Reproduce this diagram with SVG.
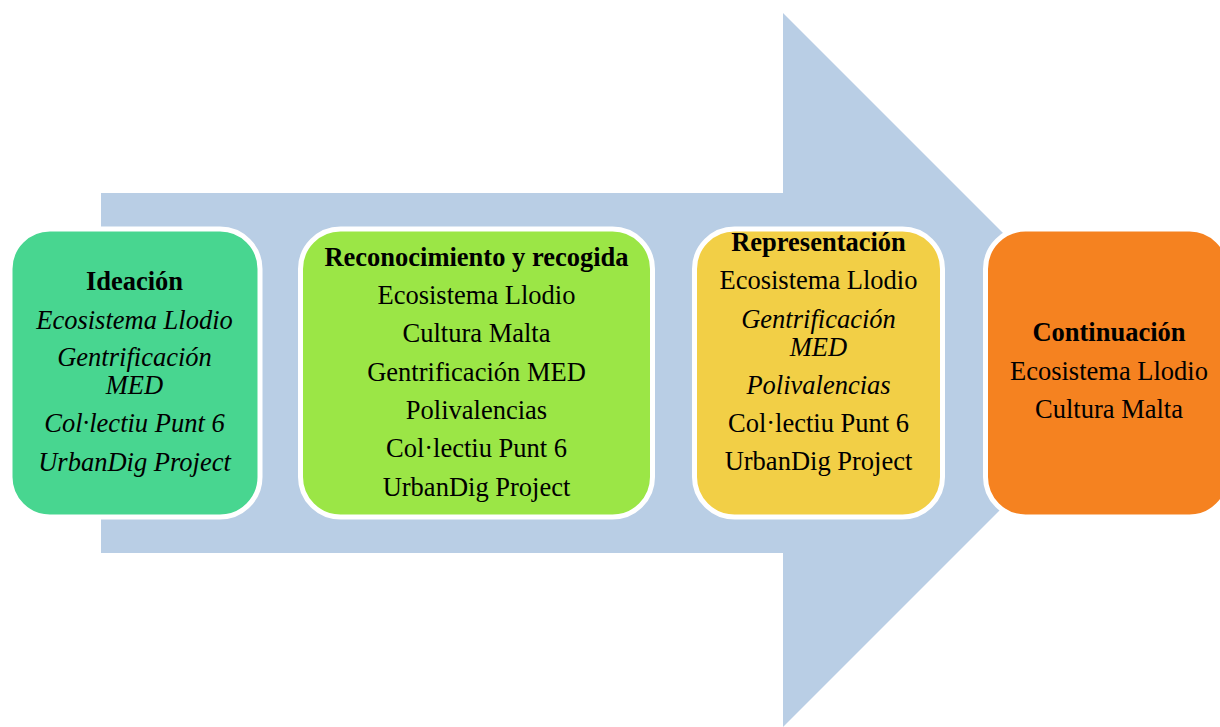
<svg xmlns="http://www.w3.org/2000/svg" width="1220" height="727" viewBox="0 0 1220 727">
<style>
.box{stroke:#ffffff;stroke-width:5}
text{font-family:"Liberation Serif","Times New Roman",serif;font-size:26.5px;fill:#000;text-anchor:middle}
.b{font-weight:bold}
.i{font-style:italic}
</style>
<rect width="1220" height="727" fill="#ffffff"/>
<g id="connectors">
<polygon points="101,193 783,193 783,13 1140,370 783,727 783,553 101,553" fill="#B9CEE5"/>
</g>
<g id="ideacion">
<rect class="box" x="10" y="229" width="250" height="288" rx="40" fill="#48D690"/>
<text x="134.5" y="290" class="b">Ideación</text>
<text x="134.5" y="329" class="i">Ecosistema Llodio</text>
<text x="134.5" y="366" class="i">Gentrificación</text>
<text x="134.5" y="394" class="i">MED</text>
<text x="134.5" y="432" class="i">Col·lectiu Punt 6</text>
<text x="134.5" y="471" class="i">UrbanDig Project</text>
</g>
<g id="reconocimiento">
<rect class="box" x="300.5" y="229" width="352" height="288" rx="40" fill="#9BE646"/>
<text x="476.5" y="266" class="b">Reconocimiento y recogida</text>
<text x="476.5" y="304">Ecosistema Llodio</text>
<text x="476.5" y="342">Cultura Malta</text>
<text x="476.5" y="381">Gentrificación MED</text>
<text x="476.5" y="419">Polivalencias</text>
<text x="476.5" y="457">Col·lectiu Punt 6</text>
<text x="476.5" y="496">UrbanDig Project</text>
</g>
<g id="representacion">
<rect class="box" x="694.5" y="229" width="248" height="288" rx="40" fill="#F2CF46"/>
<text x="818.5" y="251" class="b">Representación</text>
<text x="818.5" y="289">Ecosistema Llodio</text>
<text x="818.5" y="328" class="i">Gentrificación</text>
<text x="818.5" y="356" class="i">MED</text>
<text x="818.5" y="394" class="i">Polivalencias</text>
<text x="818.5" y="432">Col·lectiu Punt 6</text>
<text x="818.5" y="470">UrbanDig Project</text>
</g>
<g id="continuacion">
<rect class="box" x="985.5" y="229" width="244" height="288" rx="40" fill="#F58220"/>
<text x="1109" y="341" class="b">Continuación</text>
<text x="1109" y="380">Ecosistema Llodio</text>
<text x="1109" y="418">Cultura Malta</text>
</g>
</svg>
